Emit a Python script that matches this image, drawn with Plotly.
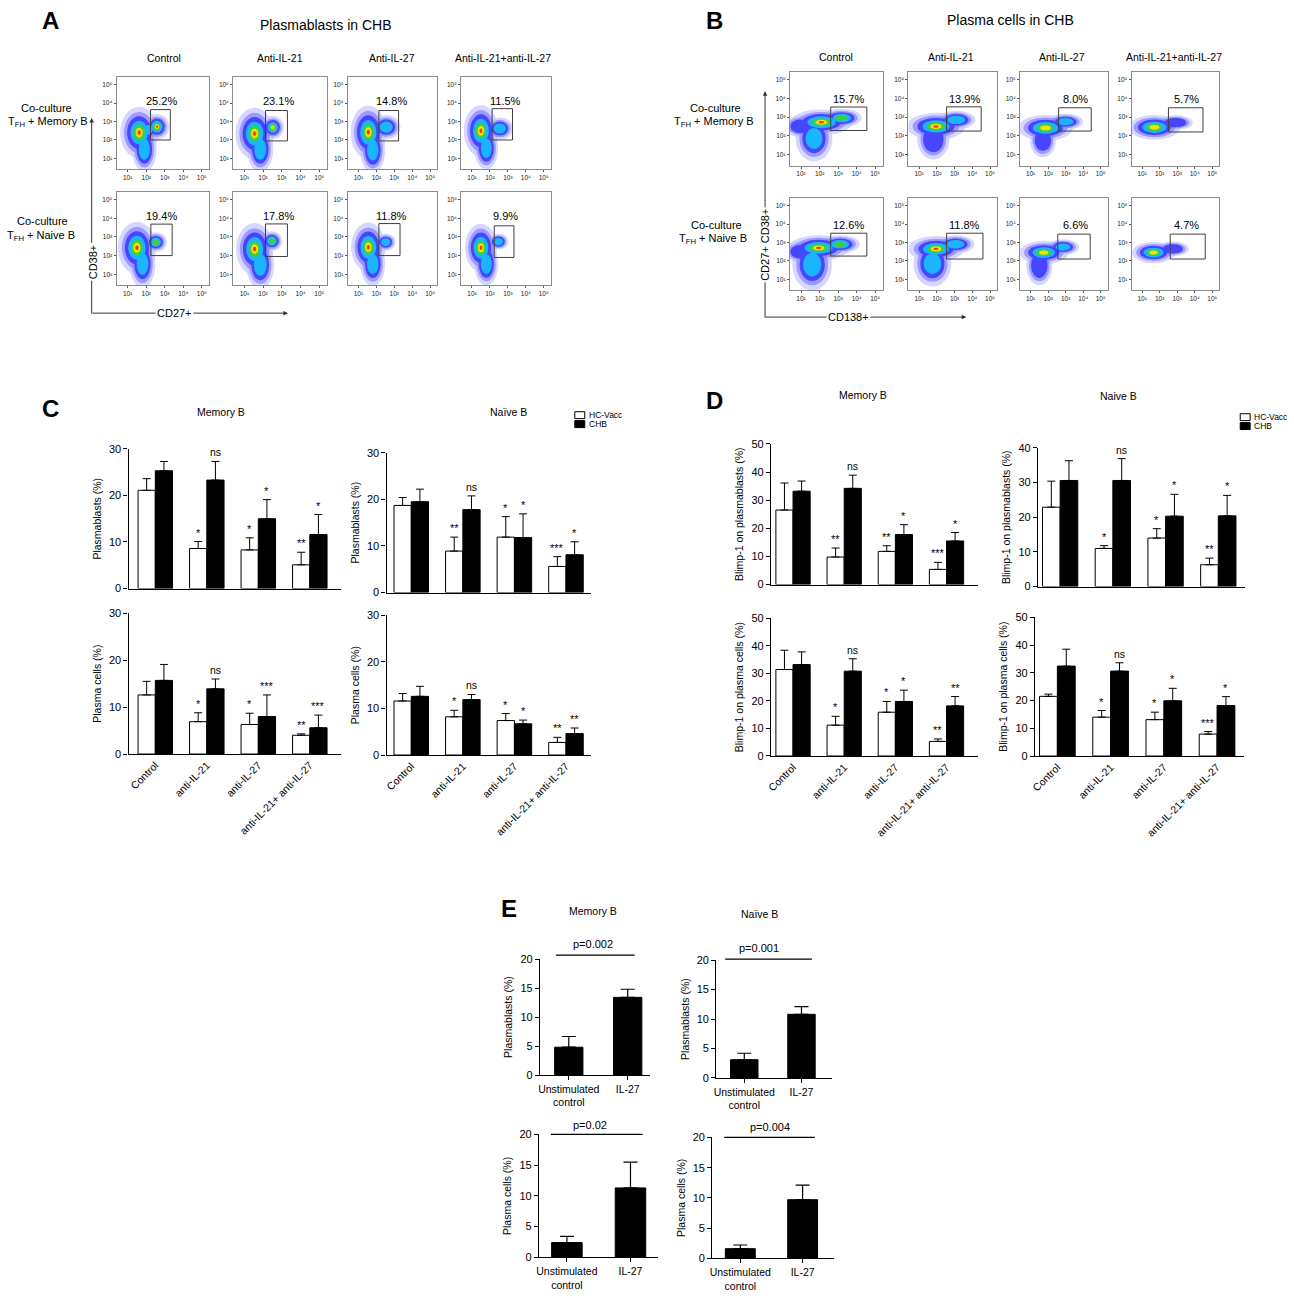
import plotly.graph_objects as go

W, H = 1294, 1298
FONT = "Arial, 'Liberation Sans', sans-serif"

# ======================= DATA =======================
TREATMENTS = ["Control", "anti-IL-21", "anti-IL-27", "anti-IL-21+ anti-IL-27"]
FLOW_COLS = ["Control", "Anti-IL-21", "Anti-IL-27", "Anti-IL-21+anti-IL-27"]
FLOW_TICKS = [1, 2, 3, 4, 5]
FLOW_TICKTEXT = ["10¹", "10²", "10³", "10⁴", "10⁵"]

# gated percentages (rows: Memory B, Naive B)
A_PCT = [["25.2%", "23.1%", "14.8%", "11.5%"], ["19.4%", "17.8%", "11.8%", "9.9%"]]
B_PCT = [["15.7%", "13.9%", "8.0%", "5.7%"], ["12.6%", "11.8%", "6.6%", "4.7%"]]

# gates in log10 units: (x0, x1, y0, y1)
A_GATES = [[(2.23, 3.3, 2.0, 3.65), (2.13, 3.3, 1.95, 3.6), (2.14, 3.24, 1.95, 3.6), (2.12, 3.26, 2.0, 3.7)],
           [(2.25, 3.4, 2.0, 3.69), (2.13, 3.3, 1.95, 3.7), (2.14, 3.32, 2.0, 3.72), (2.24, 3.34, 1.9, 3.6)]]
B_GATES = [[(2.6, 4.55, 2.28, 3.54), (2.55, 4.5, 2.25, 3.55), (2.6, 4.46, 2.25, 3.5), (2.5, 4.47, 2.2, 3.5)],
           [(2.6, 4.55, 2.26, 3.5), (2.55, 4.6, 2.1, 3.5), (2.55, 4.4, 2.1, 3.45), (2.6, 4.6, 2.1, 3.45)]]

# cell populations (log10 centre x, centre y, spread x, spread y, peak density level 0-4)
A_POPS = [
    [[(1.62, 2.4, 0.62, 0.85, 4), (2.58, 2.72, 0.4, 0.42, 4), (1.9, 1.5, 0.4, 0.75, 1), (2.1, 2.55, 0.3, 0.35, 1)],
     [(1.55, 2.35, 0.62, 0.85, 4), (2.52, 2.68, 0.36, 0.38, 3), (1.85, 1.5, 0.42, 0.75, 1)],
     [(1.55, 2.42, 0.6, 0.88, 4), (2.55, 2.7, 0.48, 0.4, 1), (1.8, 1.45, 0.42, 0.75, 1)],
     [(1.5, 2.5, 0.58, 0.85, 4), (2.55, 2.62, 0.45, 0.36, 1), (1.8, 1.55, 0.4, 0.7, 1)]],
    [[(1.5, 2.42, 0.62, 0.85, 4), (2.52, 2.72, 0.36, 0.32, 2), (1.8, 1.55, 0.42, 0.78, 1)],
     [(1.55, 2.35, 0.6, 0.85, 4), (2.47, 2.78, 0.34, 0.32, 2), (1.85, 1.5, 0.45, 0.78, 1)],
     [(1.55, 2.45, 0.58, 0.8, 4), (2.52, 2.72, 0.34, 0.28, 1), (1.8, 1.55, 0.42, 0.72, 1)],
     [(1.5, 2.42, 0.54, 0.78, 4), (2.47, 2.75, 0.34, 0.26, 1), (1.8, 1.55, 0.4, 0.7, 1)]],
]
B_POPS = [
    [[(2.1, 2.72, 1.0, 0.42, 4), (3.2, 2.95, 0.65, 0.3, 2), (1.7, 1.85, 0.6, 0.75, 1), (0.95, 2.5, 0.5, 0.35, 0)],
     [(1.95, 2.5, 1.0, 0.44, 4), (3.1, 2.85, 0.65, 0.3, 1), (1.8, 1.8, 0.55, 0.65, 0)],
     [(1.85, 2.42, 0.95, 0.42, 3), (3.0, 2.75, 0.6, 0.26, 1), (1.7, 1.75, 0.45, 0.55, 0)],
     [(1.7, 2.45, 0.9, 0.4, 3), (2.9, 2.7, 0.6, 0.24, 0)]],
    [[(1.95, 2.7, 1.0, 0.42, 4), (3.1, 2.9, 0.65, 0.3, 2), (1.6, 1.8, 0.65, 0.85, 1), (0.95, 2.5, 0.5, 0.35, 0)],
     [(1.95, 2.65, 0.95, 0.42, 4), (3.05, 2.9, 0.65, 0.3, 1), (1.75, 1.85, 0.65, 0.75, 1)],
     [(1.75, 2.45, 0.85, 0.38, 3), (2.85, 2.75, 0.55, 0.26, 1), (1.5, 1.75, 0.45, 0.65, 0)],
     [(1.65, 2.45, 0.75, 0.35, 3), (2.75, 2.65, 0.55, 0.24, 0)]],
]

# Panel C: plasmablasts / plasma cells (%), mean and SEM
C_MEM_PB_HC = [21.1, 8.6, 8.3, 5.1];   C_MEM_PB_HC_ERR = [2.5, 1.5, 2.6, 2.7]
C_MEM_PB_CHB = [25.3, 23.3, 15.0, 11.6]; C_MEM_PB_CHB_ERR = [2.0, 4.0, 4.1, 4.3]
C_MEM_PB_SIG_HC = ["", "*", "*", "**"]; C_MEM_PB_SIG_CHB = ["", "ns", "*", "*"]

C_NAI_PB_HC = [18.7, 8.9, 11.9, 5.6];  C_NAI_PB_HC_ERR = [1.7, 3.0, 4.4, 2.1]
C_NAI_PB_CHB = [19.5, 17.8, 11.8, 8.1]; C_NAI_PB_CHB_ERR = [2.7, 2.95, 5.1, 2.8]
C_NAI_PB_SIG_HC = ["", "**", "*", "***"]; C_NAI_PB_SIG_CHB = ["", "ns", "*", "*"]

C_MEM_PC_HC = [12.6, 6.9, 6.3, 4.0];   C_MEM_PC_HC_ERR = [2.9, 1.9, 2.4, 0.3]
C_MEM_PC_CHB = [15.7, 13.9, 8.0, 5.6];  C_MEM_PC_CHB_ERR = [3.4, 2.1, 4.6, 2.7]
C_MEM_PC_SIG_HC = ["", "*", "*", "**"]; C_MEM_PC_SIG_CHB = ["", "ns", "***", "***"]

C_NAI_PC_HC = [11.6, 8.2, 7.4, 2.7];   C_NAI_PC_HC_ERR = [1.6, 1.4, 1.5, 1.1]
C_NAI_PC_CHB = [12.6, 11.9, 6.7, 4.6];  C_NAI_PC_CHB_ERR = [2.15, 1.1, 0.8, 1.2]
C_NAI_PC_SIG_HC = ["", "*", "*", "**"]; C_NAI_PC_SIG_CHB = ["", "ns", "*", "**"]

# Panel D: Blimp-1 (%)
D_MEM_PB_HC = [26.5, 9.8, 11.8, 5.4];  D_MEM_PB_HC_ERR = [9.6, 3.2, 2.0, 2.5]
D_MEM_PB_CHB = [33.2, 34.2, 17.8, 15.5]; D_MEM_PB_CHB_ERR = [3.6, 4.7, 3.5, 3.0]
D_MEM_PB_SIG_HC = ["", "**", "**", "***"]; D_MEM_PB_SIG_CHB = ["", "ns", "*", "*"]

D_NAI_PB_HC = [22.9, 11.0, 14.0, 6.3]; D_NAI_PB_HC_ERR = [7.5, 0.8, 2.7, 1.9]
D_NAI_PB_CHB = [30.6, 30.6, 20.3, 20.4]; D_NAI_PB_CHB_ERR = [5.7, 6.3, 6.3, 5.9]
D_NAI_PB_SIG_HC = ["", "*", "*", "**"]; D_NAI_PB_SIG_CHB = ["", "ns", "*", "*"]

D_MEM_PC_HC = [31.4, 11.2, 15.9, 5.3]; D_MEM_PC_HC_ERR = [7.0, 3.2, 3.9, 0.9]
D_MEM_PC_CHB = [33.2, 30.8, 19.8, 18.2]; D_MEM_PC_CHB_ERR = [4.6, 4.5, 4.1, 3.4]
D_MEM_PC_SIG_HC = ["", "*", "*", "**"]; D_MEM_PC_SIG_CHB = ["", "ns", "*", "**"]

D_NAI_PC_HC = [21.5, 14.0, 13.1, 7.9]; D_NAI_PC_HC_ERR = [0.8, 2.4, 2.7, 0.9]
D_NAI_PC_CHB = [32.4, 30.6, 19.9, 18.2]; D_NAI_PC_CHB_ERR = [6.1, 3.0, 4.5, 3.2]
D_NAI_PC_SIG_HC = ["", "*", "*", "***"]; D_NAI_PC_SIG_CHB = ["", "ns", "*", "*"]

# Panel E
E_GROUPS = ["Unstimulated<br>control", "IL-27"]
E_MEM_PB = [4.8, 13.4];  E_MEM_PB_ERR = [1.85, 1.4];  E_MEM_PB_P = "p=0.002"
E_NAI_PB = [3.1, 10.8];  E_NAI_PB_ERR = [1.1, 1.3];   E_NAI_PB_P = "p=0.001"
E_MEM_PC = [2.4, 11.3];  E_MEM_PC_ERR = [1.0, 4.2];   E_MEM_PC_P = "p=0.02"
E_NAI_PC = [1.6, 9.7];   E_NAI_PC_ERR = [0.6, 2.4];   E_NAI_PC_P = "p=0.004"

# ======================= BUILD =======================
fig = go.Figure()
axes_layout = {}
shapes = []
annotations = []
count = [0]


def px(x):
    return x / W


def py(y):
    return 1 - y / H


def add_axes(x0, x1, y_top, y_bot, xa, ya):
    count[0] += 1
    s = "" if count[0] == 1 else str(count[0])
    axes_layout["xaxis" + s] = dict(domain=[px(x0), px(x1)], anchor="y" + s, **xa)
    axes_layout["yaxis" + s] = dict(domain=[py(y_bot), py(y_top)], anchor="x" + s, **ya)
    return "x" + s, "y" + s


def text(x, y, s, size=10.5, **kw):
    d = dict(x=px(x), y=py(y), xref="paper", yref="paper", text=s, showarrow=False,
             font=dict(size=size, color="#000000", family=FONT), xanchor="center", yanchor="middle")
    d.update(kw)
    annotations.append(d)


# ---------- flow plots ----------
LAYERS = [
    (1.65, "rgba(200,200,255,0.75)", 0),
    (1.32, "rgba(140,140,255,0.8)", 0),
    (1.05, "#4646ff", 0),
    (0.76, "#1ab4ff", 1),
    (0.5, "#3ccf46", 2),
    (0.31, "#f0e400", 3),
    (0.15, "#ff3a00", 4),
]


def flow_axis():
    return dict(range=[0.4, 5.4], showgrid=False, zeroline=False, showline=True, mirror=True,
                linecolor="#8c8c8c", linewidth=1, ticks="outside", ticklen=2, tickcolor="#555",
                tickvals=FLOW_TICKS, ticktext=FLOW_TICKTEXT,
                tickfont=dict(size=6.5, color="#222", family=FONT), fixedrange=True)


def flow_plot(box, pops, gate, pct, pct_pos):
    xn, yn = add_axes(box[0], box[1], box[2], box[3], flow_axis(), flow_axis())
    fig.add_trace(go.Scatter(x=[], y=[], xaxis=xn, yaxis=yn, showlegend=False, hoverinfo="skip"))
    for sc, col, lv in LAYERS:
        for (cx, cy, rx, ry, lvl) in pops:
            if lvl >= lv:
                shapes.append(dict(type="circle", xref=xn, yref=yn, x0=cx - rx * sc, x1=cx + rx * sc,
                                   y0=cy - ry * sc, y1=cy + ry * sc, fillcolor=col,
                                   line=dict(width=0), layer="below"))
    shapes.append(dict(type="rect", xref=xn, yref=yn, x0=gate[0], x1=gate[1], y0=gate[2], y1=gate[3],
                       line=dict(color="#404040", width=1)))
    annotations.append(dict(x=pct_pos[0], y=pct_pos[1], xref=xn, yref=yn, text=pct, showarrow=False,
                            font=dict(size=11, color="#000000", family=FONT)))


A_X = [(112, 205), (229, 323), (344, 434), (458, 548)]
A_Y = [(72, 165), (188, 282)]
B_X = [(788, 881), (907, 996), (1019, 1107), (1131, 1219)]
B_Y = [(67, 161), (194, 287)]

for r in range(2):
    for c in range(4):
        flow_plot((A_X[c][0], A_X[c][1], A_Y[r][0], A_Y[r][1]), A_POPS[r][c], A_GATES[r][c],
                  A_PCT[r][c], (2.85, 4.1))
        flow_plot((B_X[c][0], B_X[c][1], B_Y[r][0], B_Y[r][1]), B_POPS[r][c], B_GATES[r][c],
                  B_PCT[r][c], (3.55, 3.95))

# ---------- bar charts ----------
BW = 0.335


def ybar_axis(rng, dtick, title):
    return dict(range=rng, dtick=dtick, showgrid=False, zeroline=False, showline=True,
                linecolor="black", linewidth=1.2, ticks="outside", ticklen=4, tickwidth=1,
                tickcolor="black", tickfont=dict(size=11, color="#000000", family=FONT),
                title=dict(text=title, font=dict(size=10.5, color="#000000", family=FONT), standoff=5),
                fixedrange=True)


def group_panel(box, xr, ymax, title, hc, hc_err, chb, chb_err, sig_hc, sig_chb, labels):
    xa = dict(range=xr, showgrid=False, zeroline=False, showline=True, linecolor="black",
              linewidth=1.2, tickvals=list(range(len(TREATMENTS))), ticks="", fixedrange=True)
    if labels:
        xa.update(ticktext=TREATMENTS, tickangle=-45,
                  tickfont=dict(size=10.5, color="#000000", family=FONT))
    else:
        xa.update(showticklabels=False)
    xn, yn = add_axes(box[0], box[1], box[2], box[3], xa, ybar_axis([0, ymax], 10, title))
    xs = list(range(len(TREATMENTS)))
    for vals, errs, fill, off, sig in ((hc, hc_err, "white", -BW, sig_hc), (chb, chb_err, "black", 0, sig_chb)):
        fig.add_trace(go.Bar(x=xs, y=vals, width=BW, offset=off, xaxis=xn, yaxis=yn, showlegend=False,
                             marker=dict(color=fill, line=dict(color="black", width=1)),
                             error_y=dict(type="data", array=errs, arrayminus=[0] * len(errs),
                                          symmetric=False, color="black", thickness=1, width=4)))
        for i, s in enumerate(sig):
            if s:
                annotations.append(dict(x=xs[i] + off + BW / 2, y=vals[i] + errs[i], xref=xn, yref=yn,
                                        text=s, showarrow=False, yanchor="bottom", yshift=1,
                                        font=dict(size=11 if s != "ns" else 10.5, color="#000000",
                                                  family=FONT)))


group_panel((124, 337, 447, 588), [-0.52, 3.6], 30, "Plasmablasts (%)",
            C_MEM_PB_HC, C_MEM_PB_HC_ERR, C_MEM_PB_CHB, C_MEM_PB_CHB_ERR, C_MEM_PB_SIG_HC, C_MEM_PB_SIG_CHB, False)
group_panel((383, 588, 451, 592), [-0.48, 3.48], 30, "Plasmablasts (%)",
            C_NAI_PB_HC, C_NAI_PB_HC_ERR, C_NAI_PB_CHB, C_NAI_PB_CHB_ERR, C_NAI_PB_SIG_HC, C_NAI_PB_SIG_CHB, False)
group_panel((124, 337, 613, 755), [-0.52, 3.6], 30, "Plasma cells (%)",
            C_MEM_PC_HC, C_MEM_PC_HC_ERR, C_MEM_PC_CHB, C_MEM_PC_CHB_ERR, C_MEM_PC_SIG_HC, C_MEM_PC_SIG_CHB, True)
group_panel((383, 588, 615, 756), [-0.48, 3.48], 30, "Plasma cells (%)",
            C_NAI_PC_HC, C_NAI_PC_HC_ERR, C_NAI_PC_CHB, C_NAI_PC_CHB_ERR, C_NAI_PC_SIG_HC, C_NAI_PC_SIG_CHB, True)

group_panel((769, 977, 442, 584), [-0.43, 3.62], 50, "Blimp-1 on plasmablasts (%)",
            D_MEM_PB_HC, D_MEM_PB_HC_ERR, D_MEM_PB_CHB, D_MEM_PB_CHB_ERR, D_MEM_PB_SIG_HC, D_MEM_PB_SIG_CHB, False)
group_panel((1037, 1245, 446, 586), [-0.42, 3.51], 40, "Blimp-1 on plasmablasts (%)",
            D_NAI_PB_HC, D_NAI_PB_HC_ERR, D_NAI_PB_CHB, D_NAI_PB_CHB_ERR, D_NAI_PB_SIG_HC, D_NAI_PB_SIG_CHB, False)
group_panel((769, 977, 618, 757), [-0.43, 3.62], 50, "Blimp-1 on plasma cells (%)",
            D_MEM_PC_HC, D_MEM_PC_HC_ERR, D_MEM_PC_CHB, D_MEM_PC_CHB_ERR, D_MEM_PC_SIG_HC, D_MEM_PC_SIG_CHB, True)
group_panel((1034, 1244, 617, 757), [-0.42, 3.51], 50, "Blimp-1 on plasma cells (%)",
            D_NAI_PC_HC, D_NAI_PC_HC_ERR, D_NAI_PC_CHB, D_NAI_PC_CHB_ERR, D_NAI_PC_SIG_HC, D_NAI_PC_SIG_CHB, True)


def e_panel(box, xr, title, vals, errs):
    xa = dict(range=xr, showgrid=False, zeroline=False, showline=True, linecolor="black",
              linewidth=1.2, tickvals=[0, 1], ticktext=E_GROUPS, ticks="outside", ticklen=4,
              tickcolor="black", tickfont=dict(size=10.5, color="#000000", family=FONT), fixedrange=True)
    xn, yn = add_axes(box[0], box[1], box[2], box[3], xa, ybar_axis([0, 20], 5, title))
    fig.add_trace(go.Bar(x=[0, 1], y=vals, width=0.48, xaxis=xn, yaxis=yn, showlegend=False,
                         marker=dict(color="black", line=dict(color="black", width=1)),
                         error_y=dict(type="data", array=errs, arrayminus=[0, 0], symmetric=False,
                                      color="black", thickness=1.2, width=7)))


e_panel((537, 647, 962, 1079), [-0.49, 1.37], "Plasmablasts (%)", E_MEM_PB, E_MEM_PB_ERR)
e_panel((714, 830, 963, 1082), [-0.49, 1.53], "Plasmablasts (%)", E_NAI_PB, E_NAI_PB_ERR)
e_panel((536, 656, 1139, 1263), [-0.44, 1.44], "Plasma cells (%)", E_MEM_PC, E_MEM_PC_ERR)
e_panel((710, 832, 1142, 1264), [-0.45, 1.5], "Plasma cells (%)", E_NAI_PC, E_NAI_PC_ERR)

# p-value brackets
for (x0, x1, yy, tx, ty, s) in [(553, 632, 958, 590, 947, E_MEM_PB_P), (723, 810, 962, 757, 951, E_NAI_PB_P),
                                 (548, 640, 1139, 587, 1129, E_MEM_PC_P), (722, 813, 1142, 768, 1131, E_NAI_PC_P)]:
    shapes.append(dict(type="line", xref="paper", yref="paper", x0=px(x0), x1=px(x1), y0=py(yy), y1=py(yy),
                       line=dict(color="black", width=1.2)))
    text(tx, ty, s, 11)

# ---------- texts ----------
for s, x, y in [("A", 46, 15), ("B", 712, 15), ("C", 46, 406), ("D", 712, 398), ("E", 506, 911)]:
    text(x, y, "<b>%s</b>" % s, 24)

text(322, 19, "Plasmablasts in CHB", 14)
text(1009, 14, "Plasma cells in CHB", 14)
for c, x in enumerate([160, 276, 388, 500]):
    text(x, 52, FLOW_COLS[c], 10.5)
for c, x in enumerate([834, 950, 1061, 1174]):
    text(x, 51, FLOW_COLS[c], 10.5)

text(42, 103, "Co-culture", 11)
text(43, 117, "T<sub>FH</sub> + Memory B", 11)
text(38, 217, "Co-culture", 11)
text(36, 232, "T<sub>FH</sub> + Naive B", 11)
text(713, 103, "Co-culture", 11)
text(712, 117, "T<sub>FH</sub> + Memory B", 11)
text(714, 221, "Co-culture", 11)
text(711, 235, "T<sub>FH</sub> + Naive B", 11)

# flow axis arrows
for (tx, ty, ax, ay) in [(87, 113, 0, 197), (284, 310, -197, 0), (763, 86, 0, 228), (965, 314, -202, 0)]:
    annotations.append(dict(x=px(tx), y=py(ty), xref="paper", yref="paper", text="", showarrow=True,
                            ax=ax, ay=ay, arrowhead=2, arrowsize=0.9, arrowwidth=1, arrowcolor="#333",
                            standoff=0))
text(88, 258, "CD38+", 11, textangle=-90, bgcolor="white")
text(170, 310, "CD27+", 11, bgcolor="white")
text(763, 241, "CD27+ CD38+", 11, textangle=-90, bgcolor="white")
text(847, 314, "CD138+", 11, bgcolor="white")

text(217, 410, "Memory B", 10.5)
text(505, 410, "Naïve B", 10.5)
text(861, 393, "Memory B", 10.5)
text(1118, 394, "Naive B", 10.5)
text(590, 913, "Memory B", 10.5)
text(757, 916, "Naïve B", 10.5)

# legends
for (bx, by) in [(572, 413), (1240, 415)]:
    shapes.append(dict(type="rect", xref="paper", yref="paper", x0=px(bx), x1=px(bx + 10),
                       y0=py(by + 3.5), y1=py(by - 3.5), fillcolor="white", line=dict(color="black", width=1)))
    shapes.append(dict(type="rect", xref="paper", yref="paper", x0=px(bx), x1=px(bx + 10),
                       y0=py(by + 12.5), y1=py(by + 5.5), fillcolor="black", line=dict(color="black", width=1)))
    text(bx + 12, by, "HC-Vacc", 8.5, xanchor="left")
    text(bx + 12, by + 9, "CHB", 8.5, xanchor="left")

fig.update_layout(**axes_layout)
fig.update_layout(width=W, height=H, autosize=False, margin=dict(l=0, r=0, t=0, b=0),
                  paper_bgcolor="white", plot_bgcolor="white", barmode="overlay",
                  font=dict(family=FONT, color="black"), shapes=shapes, annotations=annotations,
                  showlegend=False)

fig.write_html("out.html", config={"displayModeBar": False},
               post_script="document.body.style.margin='0';document.body.style.overflow='hidden';")
